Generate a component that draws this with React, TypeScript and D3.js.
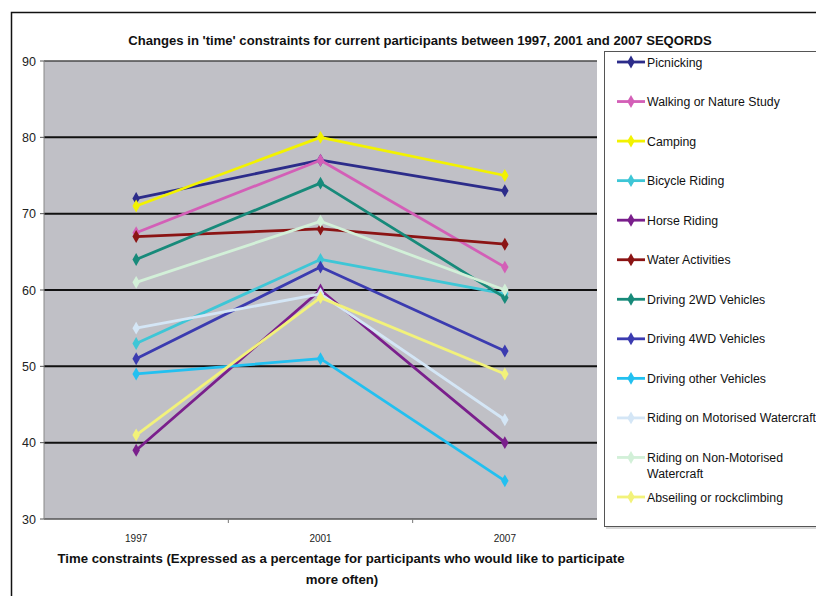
import React from "react";
import * as d3 from "d3";

const years = ["1997", "2001", "2007"];
const seriesNames = [
  "Picnicking",
  "Walking or Nature Study",
  "Camping",
  "Bicycle Riding",
  "Horse Riding",
  "Water Activities",
  "Driving 2WD Vehicles",
  "Driving 4WD Vehicles",
  "Driving other Vehicles",
  "Riding on Motorised Watercraft",
  "Riding on Non-Motorised Watercraft",
  "Abseiling or rockclimbing",
];
const picnicking = [72, 77, 73];
const walking = [67.5, 77, 63];
const camping = [71, 80, 75];
const bicycle = [53, 64, 59.5];
const horse = [39, 60, 40];
const water = [67, 68, 66];
const driving2wd = [64, 74, 59];
const driving4wd = [51, 63, 52];
const drivingOther = [49, 51, 35];
const motorised = [55, 59.5, 43];
const nonMotorised = [61, 69, 60];
const abseiling = [41, 59, 49];
const seriesColors = [
  "#2c2c8a",
  "#d35fb7",
  "#f2f200",
  "#3ec6d6",
  "#7a1f8c",
  "#8b1414",
  "#178a7a",
  "#3b3bb0",
  "#22c0f0",
  "#d4e6f6",
  "#d2f0d8",
  "#f2f27a",
];
const yTicks = [30, 40, 50, 60, 70, 80, 90];
const legendLines: string[][] = [
  ["Picnicking"],
  ["Walking or Nature Study"],
  ["Camping"],
  ["Bicycle Riding"],
  ["Horse Riding"],
  ["Water Activities"],
  ["Driving 2WD Vehicles"],
  ["Driving 4WD Vehicles"],
  ["Driving other Vehicles"],
  ["Riding on Motorised Watercraft"],
  ["Riding on Non-Motorised", "Watercraft"],
  ["Abseiling or rockclimbing"],
];
const titleText =
  "Changes in 'time' constraints for current participants between 1997, 2001 and 2007 SEQORDS";
const xTitle1 =
  "Time constraints (Expressed as a percentage for participants who would like to participate";
const xTitle2 = "more often)";

const allValues = [
  picnicking,
  walking,
  camping,
  bicycle,
  horse,
  water,
  driving2wd,
  driving4wd,
  drivingOther,
  motorised,
  nonMotorised,
  abseiling,
];

const FONT = "'Liberation Sans', Arial, sans-serif";

export default function App() {
  const W = 816;
  const H = 596;
  const plot = { left: 44, right: 597, top: 61, bottom: 519 };
  const x = d3.scaleBand<string>().domain(years).range([plot.left, plot.right]);
  const y = d3.scaleLinear().domain([30, 90]).range([plot.bottom, plot.top]);
  const cx = (yr: string) => (x(yr) as number) + x.bandwidth() / 2;

  const line = d3
    .line<number>()
    .x((_, i) => cx(years[i]))
    .y((d) => y(d));
  const diamond = d3.symbol().type(d3.symbolDiamond).size(48)() as string;

  const legendY = d3
    .scaleLinear()
    .domain([0, seriesNames.length - 1])
    .range([62, 497]);

  return (
    <svg
      width={W}
      height={H}
      style={{ position: "absolute", left: 0, top: 0, background: "#fff" }}
      fontFamily={FONT}
    >
      <rect x={0} y={0} width={W} height={H} fill="#fff" />
      {/* outer frame */}
      <rect x={11.5} y={12.5} width={W + 20} height={H + 20} fill="none" stroke="#111" strokeWidth={1.5} />

      {/* title */}
      <text x={420} y={45} textAnchor="middle" fontSize={13.1} fontWeight="bold" fill="#111">
        {titleText}
      </text>

      {/* plot area */}
      <rect
        x={plot.left}
        y={plot.top}
        width={plot.right - plot.left}
        height={plot.bottom - plot.top}
        fill="#c0c0c6"
      />
      {yTicks.map((t) => (
        <line
          key={t}
          x1={plot.left}
          x2={plot.right}
          y1={y(t)}
          y2={y(t)}
          stroke={t === 90 ? "#4a4a4a" : t === 30 ? "#555" : "#111"}
          strokeWidth={t === 90 || t === 30 ? 1.5 : 2}
        />
      ))}
      <line x1={plot.left} x2={plot.left} y1={plot.top} y2={plot.bottom} stroke="#888" strokeWidth={1} />
      {yTicks.map((t) => (
        <g key={"yt" + t}>
          <line x1={plot.left - 4} x2={plot.left} y1={y(t)} y2={y(t)} stroke="#555" />
          <text x={36} y={y(t) + 4.5} textAnchor="end" fontSize={12.5} fill="#222">
            {t}
          </text>
        </g>
      ))}
      {x.domain().map((yr, i) => (
        <g key={"xt" + yr}>
          {i > 0 && (
            <line
              x1={x(yr) as number}
              x2={x(yr) as number}
              y1={plot.bottom}
              y2={plot.bottom + 4}
              stroke="#777"
            />
          )}
          <text x={cx(yr)} y={542} textAnchor="middle" fontSize={10} fill="#222">
            {yr}
          </text>
        </g>
      ))}

      {/* series */}
      {allValues.map((vals, si) => (
        <g key={"s" + si}>
          <path d={line(vals) as string} fill="none" stroke={seriesColors[si]} strokeWidth={2.8} strokeLinejoin="round" />
          {vals.map((v, i) => (
            <path
              key={i}
              d={diamond}
              transform={`translate(${cx(years[i])},${y(v)})`}
              fill={seriesColors[si]}
            />
          ))}
        </g>
      ))}

      {/* x axis title */}
      <text x={341} y={563} textAnchor="middle" fontSize={13.2} fontWeight="bold" fill="#111">
        {xTitle1}
      </text>
      <text x={342} y={584} textAnchor="middle" fontSize={13.2} fontWeight="bold" fill="#111">
        {xTitle2}
      </text>

      {/* legend */}
      <rect x={606} y={53} width={220} height={476} fill="#d8d8d8" />
      <rect x={604.5} y={51.5} width={220} height={475} fill="#fff" stroke="#555" strokeWidth={1} />
      {seriesNames.map((name, si) => {
        const ly = legendY(si);
        return (
          <g key={"l" + si}>
            <line x1={617} x2={645} y1={ly} y2={ly} stroke={seriesColors[si]} strokeWidth={2.8} />
            <path d={diamond} transform={`translate(631,${ly})`} fill={seriesColors[si]} />
            {legendLines[si].map((ln, k) => (
              <text key={k} x={647} y={ly + 4.5 + k * 16} fontSize={12.3} fill="#111">
                {ln}
              </text>
            ))}
          </g>
        );
      })}
    </svg>
  );
}
